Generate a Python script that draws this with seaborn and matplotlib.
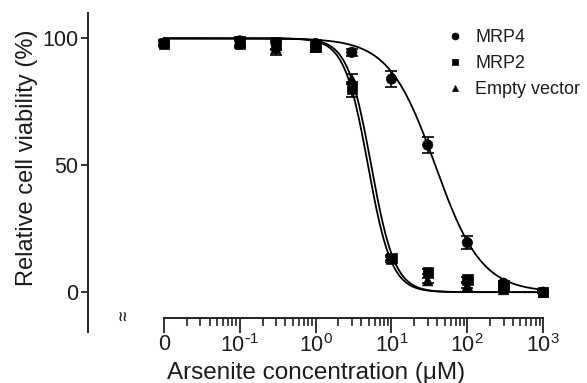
import numpy as np
import pandas as pd
import matplotlib
matplotlib.use("Agg")
import matplotlib.pyplot as plt
import seaborn as sns

# ==========================
# Data
# ==========================

# concentrations in uM; 0 is drawn at the 10^-2 position of the log axis
conc = [0, 0.1, 0.3, 1, 3, 10, 30, 100, 300, 1000]
zero_pos = 0.01

mrp4 = [98, 99, 98, 98, 94.5, 84, 58, 19.5, 3.5, 0]
mrp4_err = [1, 1.5, 2, 1.5, 1.5, 3, 3, 2.5, 1, 0.5]

mrp2 = [98, 98, 97.5, 97, 80, 13.5, 8, 5, 2, 0]
mrp2_err = [1, 1.5, 2, 2, 3, 1, 1, 1, 1, 0.5]

empty = [98.5, 98, 96, 96.5, 84, 13, 4.5, 2.5, 1, 0]
empty_err = [1, 1.5, 2.5, 2, 2, 1, 1, 1, 1, 0.5]

groups = ["MRP4", "MRP2", "Empty vector"]
markers = {"MRP4": "o", "MRP2": "s", "Empty vector": "^"}

# dose-response fit parameters (top, bottom, IC50 in uM, Hill slope)
fit_top = [100, 100, 100]
fit_bottom = [0, 0, 0]
fit_ic50 = [37.7, 4.9, 5.4]
fit_hill = [1.42, 2.8, 2.8]

xtick_labels = ["0", r"$10^{\text{-}1}$", "$10^{0}$", "$10^{1}$",
                "$10^{2}$", "$10^{3}$"]

# ==========================
# Build tables
# ==========================

xpos = [zero_pos if c == 0 else c for c in conc]

points = pd.DataFrame({
    "x": xpos * 3,
    "y": mrp4 + mrp2 + empty,
    "err": mrp4_err + mrp2_err + empty_err,
    "group": [g for g in groups for _ in conc],
})

xfit = np.logspace(np.log10(zero_pos), 3, 400)
curves = []
for g, top, bot, ic50, h in zip(groups, fit_top, fit_bottom, fit_ic50, fit_hill):
    yfit = bot + (top - bot) / (1 + (xfit / ic50) ** h)
    curves.append(pd.DataFrame({"x": xfit, "y": yfit, "group": g}))
curves = pd.concat(curves, ignore_index=True)

# ==========================
# Plot
# ==========================

sns.set_style("ticks")
plt.rcParams["font.family"] = ["Liberation Sans", "DejaVu Sans"]
plt.rcParams["mathtext.default"] = "regular"
text_col = "#1c1c1c"

fig = plt.figure(figsize=(5.87, 3.83), dpi=100)
ax = fig.add_axes([88 / 587, 1 - 332 / 383, 478 / 587, 319 / 383])

sns.lineplot(data=curves, x="x", y="y", units="group", estimator=None,
             color="black", lw=1.3, ax=ax, legend=False)

for g in groups:
    d = points[points.group == g]
    ax.errorbar(d.x, d.y, yerr=d.err, fmt="none", ecolor="black",
                elinewidth=1.2, capsize=4, capthick=1.2, zorder=3)

sns.scatterplot(data=points, x="x", y="y", style="group", markers=markers,
                color="black", s=55, edgecolor="black", linewidth=0.5,
                ax=ax, zorder=4)

ax.set_xscale("log")
ax.set_xlim(1e-3, 10 ** 3.3)
ax.set_ylim(-15.7, 110)

# axes styling
sns.despine(ax=ax)
for s in ["left", "bottom"]:
    ax.spines[s].set_linewidth(1.4)
    ax.spines[s].set_color("#222222")
ax.spines["bottom"].set_position(("data", -10))
ax.spines["bottom"].set_bounds(zero_pos, 1e3)

major = [zero_pos, 0.1, 1, 10, 100, 1000]
minor = [m * 10.0 ** e for e in range(-2, 3) for m in range(2, 10)]
ax.set_xticks(major)
ax.set_xticks(minor, minor=True)
ax.set_xticklabels(xtick_labels)
ax.set_xticklabels([], minor=True)
ax.tick_params(axis="x", which="major", length=11, width=1.3, pad=1,
               labelsize=15.5, colors="#222222", labelcolor=text_col)
ax.tick_params(axis="x", which="minor", length=5.5, width=1.2,
               colors="#222222")

ax.set_yticks([0, 50, 100])
ax.tick_params(axis="y", length=5, width=1.3, pad=2, labelsize=15.5,
               colors="#222222", labelcolor=text_col)

ax.set_xlabel("Arsenite concentration (μM)", fontsize=17.5, color=text_col)
ax.xaxis.set_label_coords(0.477, -0.128)
ax.xaxis.label.set_va("center")
ax.set_ylabel("Relative cell viability (%)", fontsize=17, color=text_col)
ax.yaxis.set_label_coords(-0.128, 0.545)
ax.yaxis.label.set_va("center")

# axis break mark
ax.text(123 / 587, 1 - 317 / 383, "≀≀", transform=fig.transFigure,
        fontsize=10, fontweight="bold", ha="center", va="center",
        family="DejaVu Sans")

# legend
handles, labels = ax.get_legend_handles_labels()
for hd in handles:
    hd.set_markersize(5)
ax.legend(handles, labels, loc="upper left", bbox_to_anchor=(0.695, 1.0),
          frameon=False, fontsize=13, handletextpad=0.15,
          labelspacing=0.5, labelcolor=text_col)

fig.savefig("out.png", dpi=100)
